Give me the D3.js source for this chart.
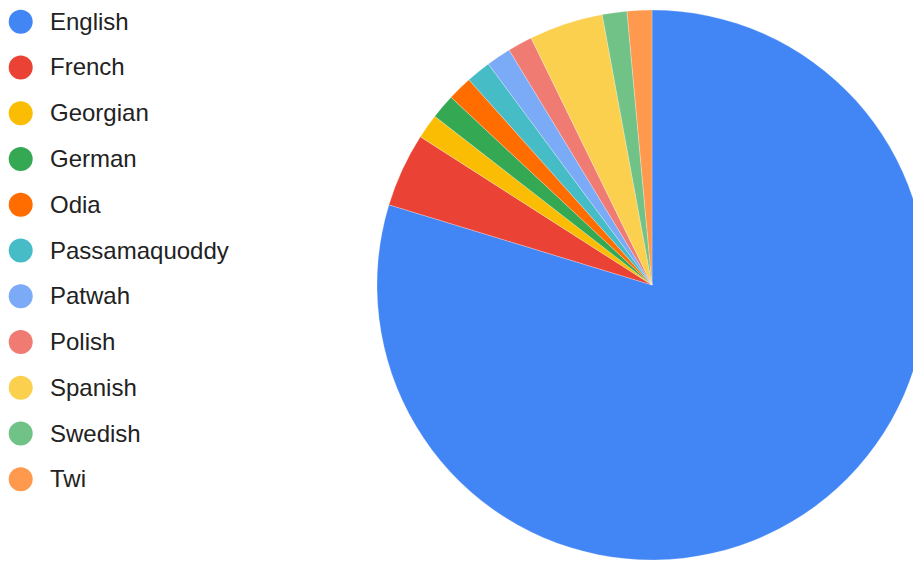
<!DOCTYPE html>
<html lang="en">
<head>
  <meta charset="UTF-8">
  <title>Languages pie chart</title>
  <script src="https://d3js.org/d3.v7.min.js"></script>
  <style>
    body { margin: 0; background: #fff; }
    .legend text { font-family: "Liberation Sans", Arial, sans-serif; font-size: 24px; fill: #222; }
  </style>
</head>
<body>
<div id="chart"></div>
<script>
  // languages and response counts
  const languages = ['English', 'French', 'Georgian', 'German', 'Odia', 'Passamaquoddy',
                     'Patwah', 'Polish', 'Spanish', 'Swedish', 'Twi'];
  const counts = [55, 3, 1, 1, 1, 1, 1, 1, 3, 1, 1];
  const colors = ['#4285F4', '#EA4335', '#FBBC04', '#34A853', '#FF6D01', '#46BDC6',
                  '#7BAAF7', '#F07B72', '#FCD04F', '#71C287', '#FF994D'];

  const width = 913, height = 562;
  const cx = 652, cy = 285, radius = 275;

  const svg = d3.select('#chart')
    .append('svg')
    .attr('width', width)
    .attr('height', height);

  const color = d3.scaleOrdinal().domain(languages).range(colors);

  const data = languages.map((name, i) => ({ name: name, value: counts[i] }));

  const pie = d3.pie()
    .value(d => d.value)
    .sort(null);

  const arc = d3.arc()
    .innerRadius(0)
    .outerRadius(radius);

  const g = svg.append('g')
    .attr('transform', `translate(${cx},${cy})`);

  g.selectAll('path')
    .data(pie(data))
    .enter().append('path')
    .attr('d', arc)
    .attr('fill', d => color(d.data.name))
    .attr('stroke', '#fff')
    .attr('stroke-opacity', 0.5)
    .attr('stroke-width', 0.5);

  // legend down the left side
  const rowY = d3.scalePoint()
    .domain(languages)
    .range([21.7, 479.3]);

  const legend = svg.append('g').attr('class', 'legend');

  const rows = legend.selectAll('g')
    .data(languages)
    .enter().append('g')
    .attr('transform', d => `translate(0,${rowY(d)})`);

  rows.append('circle')
    .attr('cx', 20.7)
    .attr('cy', 0)
    .attr('r', 12)
    .attr('fill', d => color(d));

  rows.append('text')
    .attr('x', 50)
    .attr('y', 8)
    .text(d => d);
</script>
</body>
</html>
